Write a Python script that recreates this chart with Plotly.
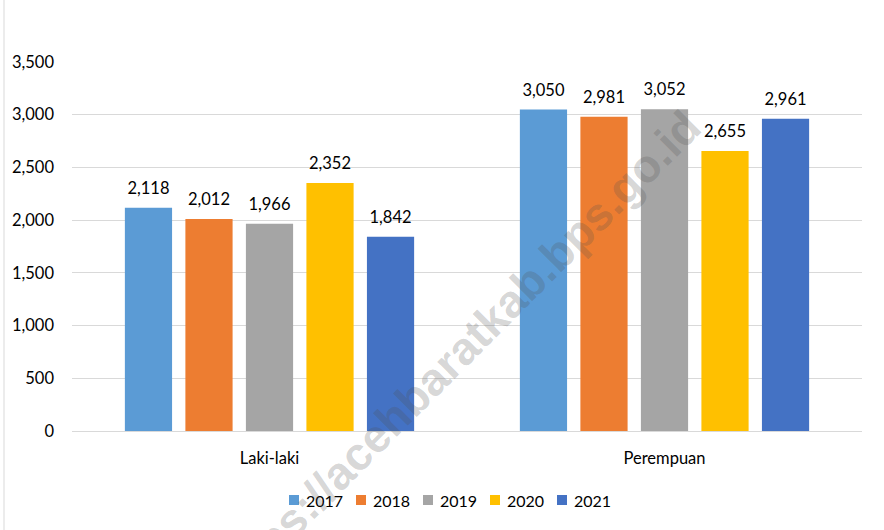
import plotly.graph_objects as go

categories = ["Laki-laki", "Perempuan"]
years = ["2017", "2018", "2019", "2020", "2021"]
values = {
    "2017": [2118, 3050],
    "2018": [2012, 2981],
    "2019": [1966, 3052],
    "2020": [2352, 2655],
    "2021": [1842, 2961],
}
colors = ["#5B9BD5", "#ED7D31", "#A5A5A5", "#FFC000", "#4472C4"]
y_ticks = [0, 500, 1000, 1500, 2000, 2500, 3000, 3500]

FONT = "Lato"
PL, PR, PT, PB = 72, 22, 62, 99
W, H = 884, 530
PW, PH = W - PL - PR, H - PT - PB


def px(X):
    return (X - PL) / PW


def py(Y):
    return (H - PB - Y) / PH


fig = go.Figure()
for yr, col in zip(years, colors):
    fig.add_trace(go.Bar(
        name=yr, x=categories, y=values[yr], marker_color=col,
        marker_line_width=0, offsetgroup=yr,
        showlegend=False, hoverinfo="skip",
    ))
for yr in years:
    fig.add_trace(go.Scatter(
        name=yr, x=categories, y=values[yr], mode="markers+text", offsetgroup=yr,
        marker=dict(size=14, opacity=0),
        text=[f"{v:,}" for v in values[yr]], textposition="top center",
        textfont=dict(family=FONT, size=16.5, color="#000000"),
        cliponaxis=False, showlegend=False,
    ))

fig.update_layout(
    width=W, height=H,
    margin=dict(l=PL, r=PR, t=PT, b=PB, autoexpand=False),
    paper_bgcolor="white", plot_bgcolor="white",
    barmode="group", bargap=0.234, bargroupgap=0.22,
    scattermode="group", scattergap=0.234,
    font=dict(family=FONT, size=16.5, color="#000000"),
    xaxis=dict(showline=True, linecolor="#D9D9D9", linewidth=1, ticks="",
               tickfont=dict(family=FONT, size=16.5), ticklabelstandoff=12),
    yaxis=dict(range=[0, 3500], tickvals=y_ticks, tickformat=",",
               showgrid=True, gridcolor="#D9D9D9", gridwidth=1, zeroline=False,
               showline=False, ticks="", ticklabelstandoff=17,
               tickfont=dict(family=FONT, size=16.5)),
    showlegend=False,
)

# frame line on the left edge
fig.add_shape(type="line", xref="paper", yref="paper",
              x0=px(4), x1=px(4), y0=py(H), y1=py(0),
              line=dict(color="#D9D9D9", width=1))

# legend drawn manually (compact Excel-style spacing)
leg_x0, leg_step, leg_y = 289, 67, 500
for i, (yr, col) in enumerate(zip(years, colors)):
    sx = leg_x0 + i * leg_step
    fig.add_shape(type="rect", xref="paper", yref="paper",
                  x0=px(sx), x1=px(sx + 10), y0=py(leg_y + 5), y1=py(leg_y - 5),
                  fillcolor=col, line=dict(width=0))
    fig.add_annotation(text=yr, xref="paper", yref="paper",
                       x=px(sx + 15), y=py(leg_y), xanchor="left", yanchor="middle",
                       showarrow=False, font=dict(family=FONT, size=16, color="#000000"))

fig.add_annotation(text="<b>https://acehbaratkab.bps.go.id</b>", xref="paper", yref="paper",
                   x=px(456), y=py(355), showarrow=False,
                   textangle=-45, font=dict(family="Liberation Sans", size=46, color="rgba(80,80,80,0.24)"),
                   xanchor="center", yanchor="middle")

fig.write_html("out.html", config={"displayModeBar": False},
               post_script="document.body.style.margin='0';document.body.style.padding='0';")
